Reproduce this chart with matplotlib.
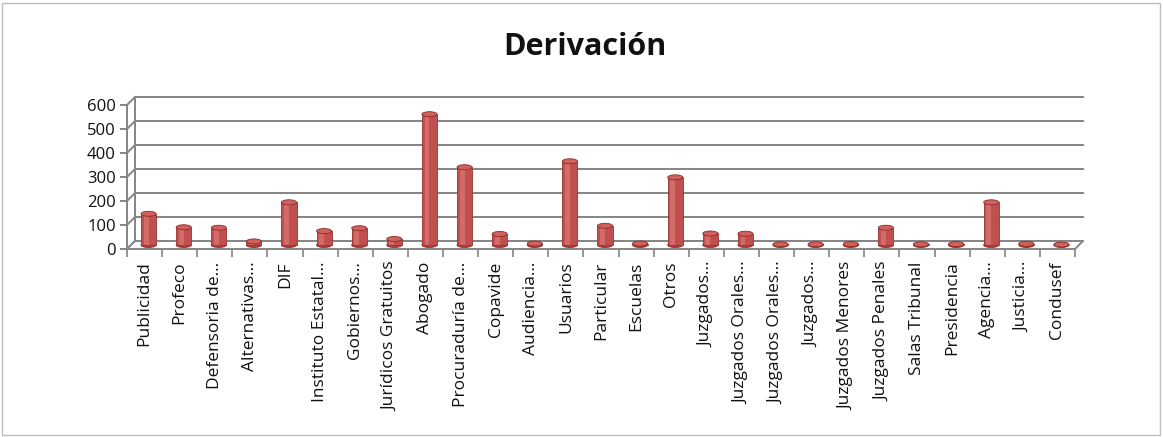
import numpy as np
import matplotlib.pyplot as plt
from matplotlib.patches import Ellipse, Rectangle, Polygon

plt.rcParams["font.family"] = ["Open Sans", "DejaVu Sans"]

# Datos
categorias = [
    "Publicidad", "Profeco", "Defensoria de…", "Alternativas…", "DIF",
    "Instituto Estatal…", "Gobiernos…", "Jurídicos Gratuitos", "Abogado",
    "Procuraduría de…", "Copavide", "Audiencia…", "Usuarios", "Particular",
    "Escuelas", "Otros", "Juzgados…", "Juzgados Orales…", "Juzgados Orales…",
    "Juzgados…", "Juzgados Menores", "Juzgados Penales", "Salas Tribunal",
    "Presidencia", "Agencia…", "Justicia…", "Condusef",
]
valores = [
    130, 74, 72, 15, 178, 58, 70, 25, 545, 324, 46, 6, 349, 80, 6, 282,
    48, 47, 3, 3, 4, 72, 3, 4, 178, 5, 2,
]
y_ticks = [0, 100, 200, 300, 400, 500, 600]

fig = plt.figure(figsize=(11.63, 4.37), dpi=100)
ax = fig.add_axes([127 / 1163, 1 - 249 / 437, 948 / 1163, 144 / 437])

n = len(categorias)
x = np.arange(n)
ax.set_xlim(-0.5, n - 0.5)
ax.set_ylim(0, 600)

# profundidad del efecto 3D en unidades de datos (~8 px)
dx = 8 / (948 / n)
dy = 8 / (144 / 600)
grid_color = "#858585"

# pared del fondo: líneas de cuadrícula desplazadas
for v in y_ticks:
    ax.plot([-0.5 + dx, n - 0.5 + dx], [v + dy, v + dy], color=grid_color,
            lw=1.4, clip_on=False, zorder=1)
    ax.plot([-0.5, -0.5 + dx], [v, v + dy], color=grid_color, lw=1.4,
            clip_on=False, zorder=1)
ax.plot([-0.5 + dx, -0.5 + dx], [dy, 600 + dy], color=grid_color, lw=1.4,
        clip_on=False, zorder=1)
# suelo
floor = Polygon([[-0.5, 0], [n - 0.5, 0], [n - 0.5 + dx, dy], [-0.5 + dx, dy]],
                closed=True, facecolor="white", edgecolor=grid_color, lw=1.4,
                clip_on=False, zorder=1.5)
ax.add_patch(floor)

# cilindros
w = 0.43
xb = x + dx / 2
base = dy / 2
eh = 5 / (144 / 600)
for xi in xb:
    ax.add_patch(Ellipse((xi, base), w, eh, facecolor="#B5433F",
                         edgecolor="#8E2B28", lw=0.6, zorder=2.5, clip_on=False))
ax.bar(xb, valores, width=w, bottom=base, color="#C0504D",
       edgecolor="#9A3330", linewidth=0.6, zorder=3, clip_on=False)
ax.bar(xb - 0.07, valores, width=0.14, bottom=base, color="#E3847F",
       linewidth=0, alpha=0.55, zorder=3.5, clip_on=False)
for xi, v in zip(xb, valores):
    ax.add_patch(Ellipse((xi, base + v), w, eh, facecolor="#D0625E",
                         edgecolor="#8E2B28", lw=0.6, zorder=4, clip_on=False))

# ejes
for s in ["top", "right", "bottom"]:
    ax.spines[s].set_visible(False)
ax.spines["left"].set_color(grid_color)
ax.spines["left"].set_linewidth(1.4)
ax.set_yticks(y_ticks)
ax.set_yticklabels([str(v) for v in y_ticks], fontsize=12, color="#111111")
ax.tick_params(axis="y", length=5, color=grid_color, width=1.4, pad=3)

ax.set_xticks(x)
ax.set_xticklabels(categorias, rotation=90, fontsize=12.5, color="#111111")
ax.set_xticks(np.arange(n + 1) - 0.5, minor=True)
ax.tick_params(axis="x", which="major", length=0, pad=9)
ax.tick_params(axis="x", which="minor", length=6, color=grid_color, width=1.2)

fig.text(0.503, 0.893, "Derivación", ha="center", va="center", fontsize=22,
         fontweight="bold", color="#111111")

fig.patches.append(Rectangle((2 / 1163, 2 / 437), 1158 / 1163, 432 / 437,
                             transform=fig.transFigure, fill=False,
                             edgecolor="#bfbfbf", lw=1))

fig.savefig("out.png", dpi=100)
